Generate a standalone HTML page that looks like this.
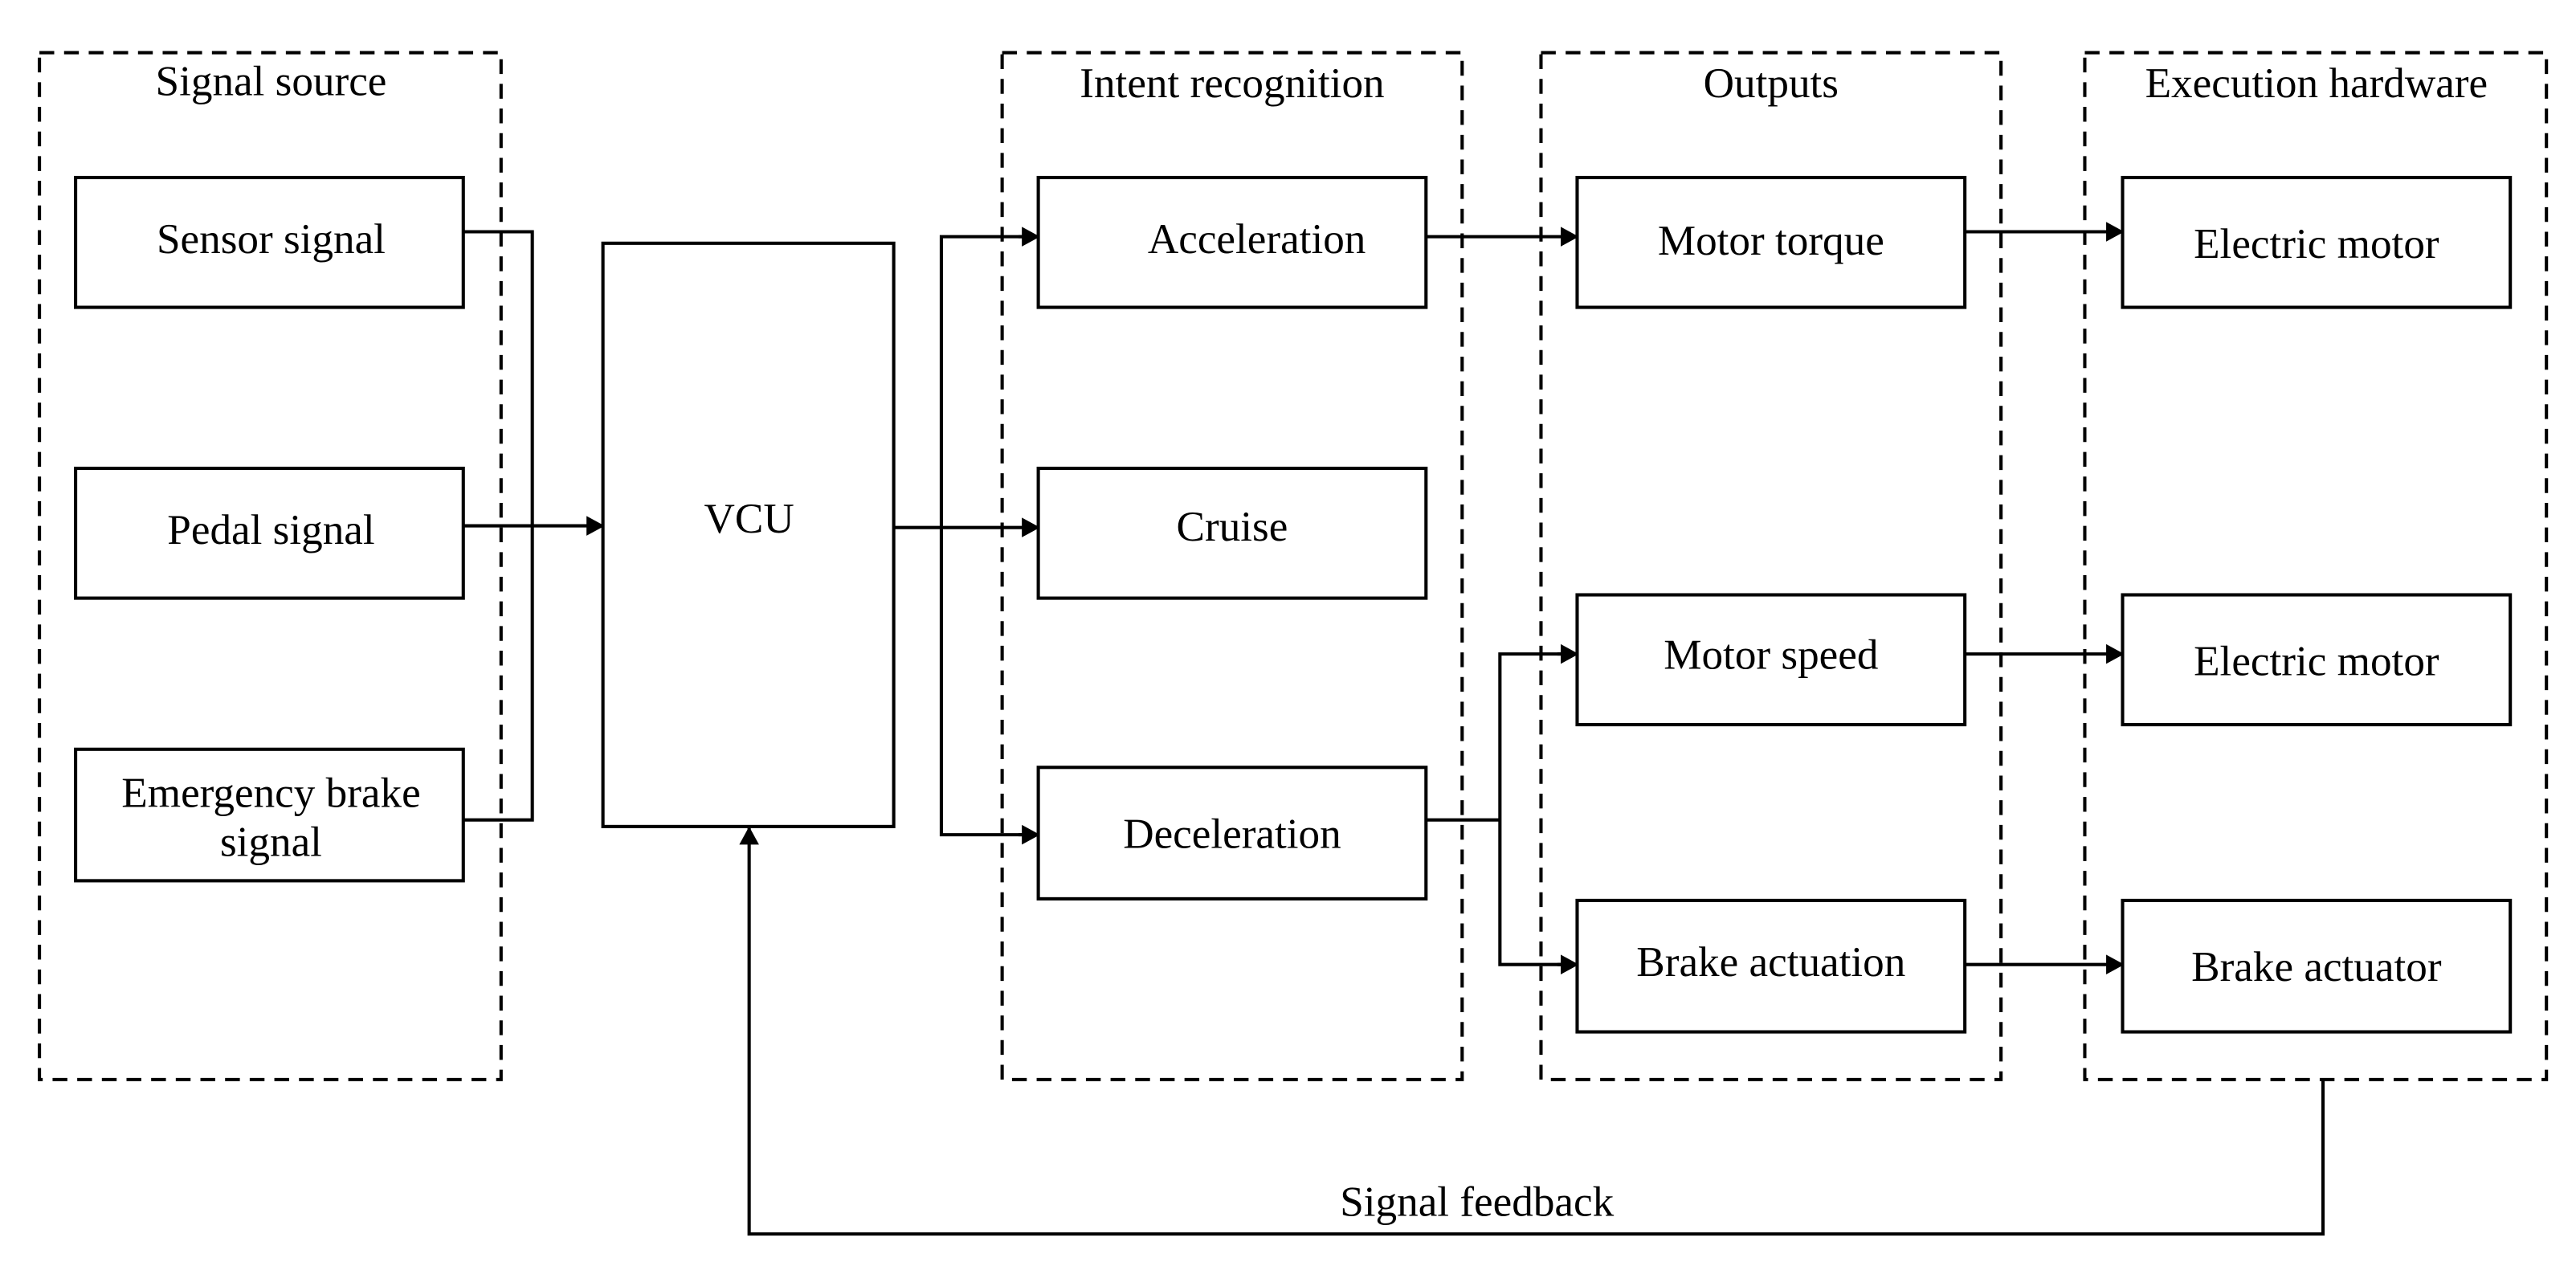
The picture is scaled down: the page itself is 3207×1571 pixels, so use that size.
<!DOCTYPE html>
<html><head><meta charset="utf-8"><style>html,body{margin:0;padding:0;background:#fff}svg{display:block}</style></head>
<body>
<svg width="3207" height="1571" viewBox="0 0 1568 768" xmlns="http://www.w3.org/2000/svg">
<defs><marker id="a" markerWidth="11" markerHeight="12" refX="10" refY="6" orient="auto" markerUnits="userSpaceOnUse"><path d="M0,0 L11,6 L0,12 z" fill="#000"/></marker></defs>
<g fill="none" stroke="#000" stroke-width="2" stroke-dasharray="9,6">
<rect x="24" y="32" width="281" height="625"/>
<rect x="610" y="32" width="280" height="625"/>
<rect x="938" y="32" width="280" height="625"/>
<rect x="1269" y="32" width="281" height="625"/>
</g>
<g fill="none" stroke="#000" stroke-width="2">
<rect x="46" y="108" width="236" height="79"/>
<rect x="46" y="285" width="236" height="79"/>
<rect x="46" y="456" width="236" height="80"/>
<rect x="367" y="148" width="177" height="355"/>
<rect x="632" y="108" width="236" height="79"/>
<rect x="632" y="285" width="236" height="79"/>
<rect x="632" y="467" width="236" height="80"/>
<rect x="960" y="108" width="236" height="79"/>
<rect x="960" y="362" width="236" height="79"/>
<rect x="960" y="548" width="236" height="80"/>
<rect x="1292" y="108" width="236" height="79"/>
<rect x="1292" y="362" width="236" height="79"/>
<rect x="1292" y="548" width="236" height="80"/>
<polyline points="282,141 324,141 324,499 282,499"/>
<line x1="282" y1="320" x2="367" y2="320" marker-end="url(#a)"/>
<line x1="544" y1="321" x2="632" y2="321" marker-end="url(#a)"/>
<polyline points="632,144 573,144 573,508 632,508" />
<line x1="620" y1="144" x2="632" y2="144" marker-end="url(#a)"/>
<line x1="620" y1="508" x2="632" y2="508" marker-end="url(#a)"/>
<line x1="868" y1="144" x2="960" y2="144" marker-end="url(#a)"/>
<line x1="1196" y1="141" x2="1292" y2="141" marker-end="url(#a)"/>
<polyline points="868,499 913,499"/>
<polyline points="960,398 913,398 913,587 960,587"/>
<line x1="948" y1="398" x2="960" y2="398" marker-end="url(#a)"/>
<line x1="948" y1="587" x2="960" y2="587" marker-end="url(#a)"/>
<line x1="1196" y1="398" x2="1292" y2="398" marker-end="url(#a)"/>
<line x1="1196" y1="587" x2="1292" y2="587" marker-end="url(#a)"/>
<polyline points="1414,657 1414,751 456,751 456,504" marker-end="url(#a)"/>
</g>
<g font-family="Liberation Serif, serif" font-size="26" text-anchor="middle" fill="#000">
<text x="165" y="58">Signal source</text>
<text x="750" y="59">Intent recognition</text>
<text x="1078" y="59">Outputs</text>
<text x="1410" y="59">Execution hardware</text>
<text x="165" y="154">Sensor signal</text>
<text x="165" y="331">Pedal signal</text>
<text x="165" y="491">Emergency brake</text>
<text x="165" y="521">signal</text>
<text x="456" y="324">VCU</text>
<text x="765" y="154">Acceleration</text>
<text x="750" y="329">Cruise</text>
<text x="750" y="516">Deceleration</text>
<text x="1078" y="155">Motor torque</text>
<text x="1078" y="407">Motor speed</text>
<text x="1078" y="594">Brake actuation</text>
<text x="1410" y="157">Electric motor</text>
<text x="1410" y="411">Electric motor</text>
<text x="1410" y="597">Brake actuator</text>
<text x="899" y="740">Signal feedback</text>
</g>
</svg>
</body></html>
